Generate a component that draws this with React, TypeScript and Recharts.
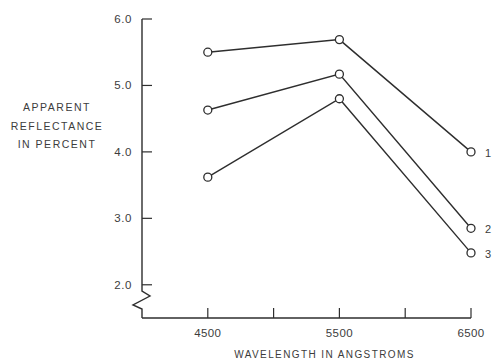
import { Line, LineChart, ReferenceLine, XAxis, YAxis } from "recharts";

// Wavelength (angstroms) on x, apparent reflectance (%) on y
const wavelengths = [4500, 5500, 6500];
const curve1 = [5.5, 5.69, 4.0];
const curve2 = [4.63, 5.17, 2.85];
const curve3 = [3.62, 4.8, 2.48];

const curveNames = ["1", "2", "3"];
const yTicks = [2, 3, 4, 5, 6];
const xTicks = [4500, 5000, 5500, 6000, 6500];
const xLabelled = [4500, 5500, 6500];

const data = wavelengths.map((w, i) => ({
  w,
  c1: curve1[i],
  c2: curve2[i],
  c3: curve3[i],
}));

const ink = "#2e2e2e";
const textInk = "#3c3c3c";
const font = "'Liberation Sans', Arial, sans-serif";

function YTick({ x, y, payload }: any) {
  return (
    <g>
      <line x1={x} y1={y} x2={x + 10} y2={y} stroke={ink} strokeWidth={1.2} />
      <text x={x - 10} y={y + 4} textAnchor="end" fontSize={11.5} fill={textInk} fontFamily={font} letterSpacing={0.6}>
        {payload.value.toFixed(1)}
      </text>
    </g>
  );
}

function XTick({ x, y, payload }: any) {
  return (
    <g>
      <line x1={x} y1={y} x2={x} y2={y - 10} stroke={ink} strokeWidth={1.2} />
      {xLabelled.includes(payload.value) && (
        <text x={x} y={y + 19} textAnchor="middle" fontSize={11.5} fill={textInk} fontFamily={font} letterSpacing={0.4}>
          {payload.value}
        </text>
      )}
    </g>
  );
}

// y axis with the break zigzag near the bottom
function BrokenAxis({ x1, y1, y2 }: any) {
  const x = x1;
  const top = Math.min(y1, y2);
  const b = Math.max(y1, y2);
  const d = `M${x},${top} L${x},${b - 27} L${x + 8},${b - 22} L${x - 9},${b - 13} L${x},${b - 9} L${x},${b}`;
  return <path d={d} fill="none" stroke={ink} strokeWidth={1.4} />;
}

function YTitle() {
  const lines = ["APPARENT", "REFLECTANCE", "IN PERCENT"];
  return (
    <g>
      {lines.map((t, i) => (
        <text key={t} x={57} y={111 + i * 18.5} textAnchor="middle" fontSize={10.5} fill={textInk} fontFamily={font} letterSpacing={1.5}>
          {t}
        </text>
      ))}
    </g>
  );
}

function EndLabel(name: string) {
  return ({ x, y, index }: any) =>
    index === wavelengths.length - 1 ? (
      <text x={x + 14} y={y + 5} fontSize={11} fill={textInk} fontFamily={font}>
        {name}
      </text>
    ) : null;
}

const keys = ["c1", "c2", "c3"];

export default function App() {
  return (
    <div style={{ position: "absolute", left: 0, top: 0, background: "#fff" }}>
      <LineChart width={494} height={359} data={data} margin={{ top: 19, right: 23, bottom: 0, left: 0 }}>
        <XAxis
          dataKey="w"
          type="number"
          domain={[4000, 6500]}
          ticks={xTicks}
          tick={<XTick />}
          tickSize={0}
          tickMargin={0}
          tickLine={false}
          axisLine={{ stroke: ink, strokeWidth: 1.4 }}
          height={41}
          label={{
            value: "WAVELENGTH IN ANGSTROMS",
            position: "insideBottom",
            offset: 0,
            dx: 18,
            dy: -1,
            fontSize: 10,
            fill: textInk,
            fontFamily: font,
            letterSpacing: 1.4,
          }}
        />
        <YAxis
          type="number"
          domain={[1.5, 6]}
          ticks={yTicks}
          tick={<YTick />}
          tickSize={0}
          tickMargin={0}
          tickLine={false}
          axisLine={false}
          width={142}
          label={{ content: <YTitle /> }}
        />
        <ReferenceLine x={4000} shape={<BrokenAxis />} />
        {keys.map((k, i) => (
          <Line
            key={k}
            dataKey={k}
            stroke={ink}
            strokeWidth={1.4}
            dot={{ r: 4, fill: "#fff", stroke: ink, strokeWidth: 1.3 }}
            label={EndLabel(curveNames[i])}
            isAnimationActive={false}
          />
        ))}
      </LineChart>
    </div>
  );
}
